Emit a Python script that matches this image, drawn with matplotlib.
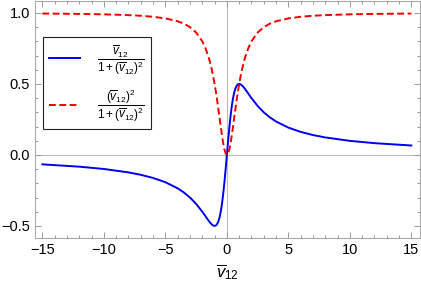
import matplotlib
matplotlib.use("Agg")
import matplotlib.pyplot as plt
from matplotlib.ticker import MultipleLocator

plt.rcParams['font.family'] = ['Liberation Sans', 'DejaVu Sans']
plt.rcParams['mathtext.fontset'] = 'custom'
plt.rcParams['mathtext.rm'] = 'Liberation Sans'
plt.rcParams['mathtext.it'] = 'Liberation Sans:italic'

v12 = [-15, -12, -10, -8, -7, -6, -5, -4, -3.5, -3, -2.5, -2, -1.75, -1.5, -1.35, -1.2, -1.1,
       -1, -0.9, -0.8, -0.7, -0.6, -0.5, -0.4, -0.3, -0.2, -0.1, 0,
       0.1, 0.2, 0.3, 0.4, 0.5, 0.6, 0.7, 0.8, 0.9, 1,
       1.1, 1.2, 1.35, 1.5, 1.75, 2, 2.5, 3, 3.5, 4, 5, 6, 7, 8, 10, 12, 15]
blue_vals = [-0.0664, -0.0828, -0.0990, -0.1231, -0.1400, -0.1622, -0.1923, -0.2353, -0.2642, -0.3000,
             -0.3448, -0.4000, -0.4308, -0.4615, -0.4785, -0.4918, -0.4977,
             -0.5000, -0.4972, -0.4878, -0.4698, -0.4412, -0.4000, -0.3448, -0.2752, -0.1923, -0.0990, 0.0,
             0.0990, 0.1923, 0.2752, 0.3448, 0.4000, 0.4412, 0.4698, 0.4878, 0.4972, 0.5000,
             0.4977, 0.4918, 0.4785, 0.4615, 0.4308, 0.4000, 0.3448, 0.3000, 0.2642, 0.2353, 0.1923,
             0.1622, 0.1400, 0.1231, 0.0990, 0.0828, 0.0664]
red_vals = [0.9956, 0.9931, 0.9901, 0.9846, 0.9800, 0.9730, 0.9615, 0.9412, 0.9245, 0.9000,
            0.8621, 0.8000, 0.7538, 0.6923, 0.6457, 0.5902, 0.5475,
            0.5000, 0.4475, 0.3902, 0.3289, 0.2647, 0.2000, 0.1379, 0.0826, 0.0385, 0.0099, 0.0,
            0.0099, 0.0385, 0.0826, 0.1379, 0.2000, 0.2647, 0.3289, 0.3902, 0.4475, 0.5000,
            0.5475, 0.5902, 0.6457, 0.6923, 0.7538, 0.8000, 0.8621, 0.9000, 0.9245, 0.9412, 0.9615,
            0.9730, 0.9800, 0.9846, 0.9901, 0.9931, 0.9956]

xticks = [-15, -10, -5, 0, 5, 10, 15]
xticklabels = ['\u221215', '\u221210', '\u22125', '0', '5', '10', '15']
yticks = [-0.5, 0.0, 0.5, 1.0]
yticklabels = ['\u22120.5', '0.0', '0.5', '1.0']

fig = plt.figure(figsize=(4.21, 2.86), dpi=100)
ax = fig.add_axes([35/421, 1 - 237.7/286, 385/421, 236.7/286])

ax.axhline(0, color='#bbbbbb', lw=0.8, zorder=0)
ax.axvline(0, color='#bbbbbb', lw=0.8, zorder=0)

lb, = ax.plot(v12, blue_vals, color='#0000ee', lw=1.4,
              label=r'$\dfrac{\overline{v}_{12}}{1+(\overline{v}_{12})^2}$')
lr, = ax.plot(v12, red_vals, color='#ee0000', lw=1.4, ls=(0, (3.5, 1.8)),
              label=r'$\dfrac{(\overline{v}_{12})^2}{1+(\overline{v}_{12})^2}$')

ax.set_xlim(-15.6, 15.7)
ax.set_ylim(-0.583, 1.084)
ax.set_xticks(xticks)
ax.set_xticklabels(xticklabels)
ax.set_yticks(yticks)
ax.set_yticklabels(yticklabels)
ax.xaxis.set_minor_locator(MultipleLocator(1))
ax.yaxis.set_minor_locator(MultipleLocator(0.1))
ax.tick_params(which='both', direction='in', top=True, right=True, color='#999999',
               labelsize=10.5, width=0.7)
ax.tick_params(which='major', length=4)
ax.tick_params(which='minor', length=2)
for s in ax.spines.values():
    s.set_color('#aaaaaa')
    s.set_linewidth(0.8)

ax.set_xlabel(r'$\overline{v}_{12}$', fontsize=12, labelpad=4)

leg = ax.legend(loc='upper left', bbox_to_anchor=(43/421, 1 - 37/286), bbox_transform=fig.transFigure,
                fancybox=False, edgecolor='#222222', framealpha=1, fontsize=8.5,
                handlelength=2.6, borderpad=0.5, labelspacing=0.9, handletextpad=1.5,
                borderaxespad=0)
leg.get_frame().set_linewidth(0.8)

fig.savefig('out.png', dpi=100)
